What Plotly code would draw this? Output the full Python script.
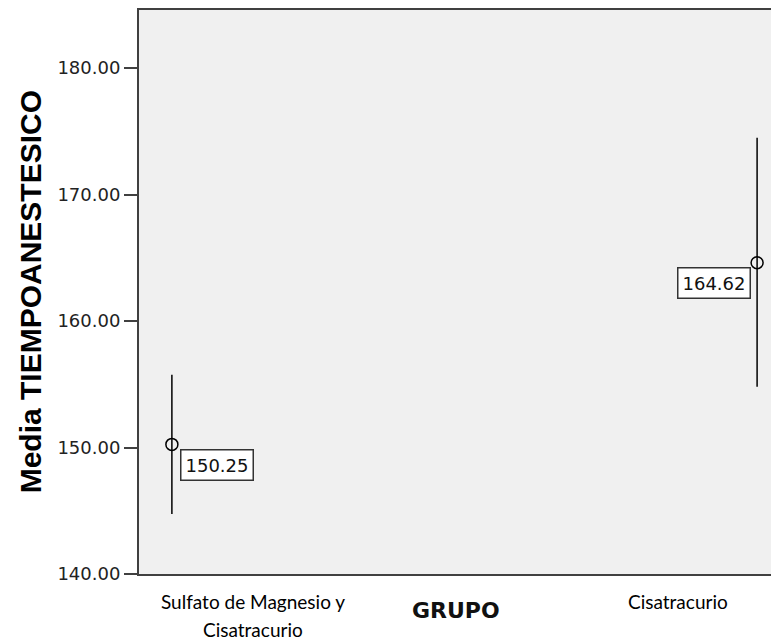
import plotly.graph_objects as go

group_lines = [["Sulfato de Magnesio y", "Cisatracurio"], ["Cisatracurio"]]
means = [150.25, 164.62]
lower = [144.75, 154.8]
upper = [155.75, 174.5]
mean_labels = ["150.25", "164.62"]
yticks = [140, 150, 160, 170, 180]

W, H = 771, 632
M = dict(l=131, r=0, t=2, b=66)
plot_h = H - M["t"] - M["b"]

xpos = [0, 1]
fig = go.Figure()
fig.add_trace(go.Scatter(
    x=xpos, y=means, mode="markers",
    marker=dict(symbol="circle-open", size=12, color="black", line=dict(width=1.5)),
    error_y=dict(type="data", symmetric=False,
                 array=[u - m for u, m in zip(upper, means)],
                 arrayminus=[m - l for m, l in zip(means, lower)],
                 width=0, thickness=1.5, color="black"),
    showlegend=False, hoverinfo="skip"))

shifts = [(45, -21), (-43, -20)]
for x, m, t, (sx, sy) in zip(xpos, means, mean_labels, shifts):
    fig.add_annotation(x=x, y=m, text=t, showarrow=False, xshift=sx, yshift=sy,
                       xanchor="center", yanchor="middle",
                       font=dict(family="DejaVu Sans", size=18, color="#111111"),
                       bgcolor="white", bordercolor="#333333", borderwidth=1.5, borderpad=4)

# category labels below the axis (pixel offsets below the plot bottom)
label_x = [0.178, 0.845]
line_offsets = [27, 55]
for lx, lines in zip(label_x, group_lines):
    for i, line in enumerate(lines):
        fig.add_annotation(x=lx, xref="paper", y=-line_offsets[i] / plot_h, yref="paper",
                           xanchor="center", yanchor="middle",
                           text=line, showarrow=False,
                           font=dict(family="Lato, Carlito, Open Sans", size=19, color="black"))

fig.add_annotation(x=0.497, xref="paper", y=-36 / plot_h, yref="paper",
                   xanchor="center", yanchor="middle",
                   text="<b>GRUPO</b>", showarrow=False,
                   font=dict(family="DejaVu Sans", size=22, color="#111111"))

fig.add_annotation(x=-109 / 640, xref="paper", y=0.5, yref="paper", textangle=-90,
                   xanchor="center", yanchor="middle",
                   text="<b>Media TIEMPOANESTESICO</b>", showarrow=False,
                   font=dict(family="Liberation Sans, Arial", size=30, color="black"))

fig.update_layout(
    width=W, height=H,
    margin=M,
    paper_bgcolor="white", plot_bgcolor="#f0f0f0",
    xaxis=dict(range=[-0.0562, 1.034], showticklabels=False,
               showgrid=False, zeroline=False, showline=True, linecolor="#404040",
               linewidth=2, mirror=True, ticks=""),
    yaxis=dict(range=[140, 184.6], tickvals=yticks,
               ticktext=[f"{v:.2f}" for v in yticks],
               showgrid=False, zeroline=False, showline=True, linecolor="#404040",
               linewidth=2, mirror=True, ticks="outside", ticklen=13, tickcolor="#404040",
               tickwidth=1.5,
               tickfont=dict(family="DejaVu Sans", size=18, color="#222222")),
)
fig.write_html("out.html")
